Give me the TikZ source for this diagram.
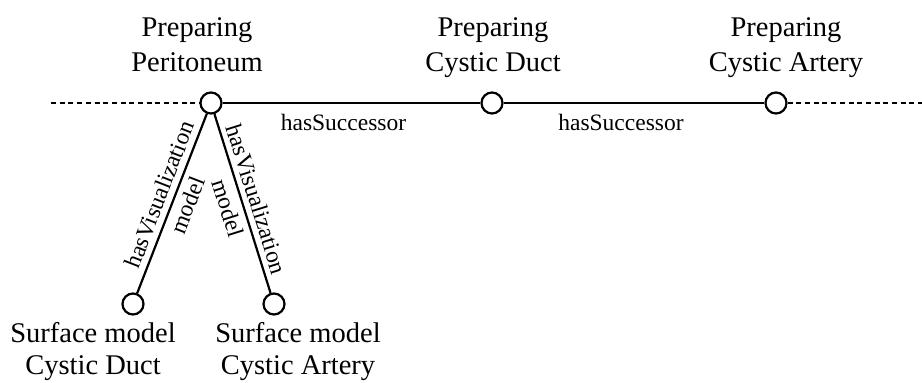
\documentclass[tikz,border=0pt]{standalone}
\usepackage{fontspec}
\setmainfont{Liberation Serif}
\begin{document}
\begin{tikzpicture}[x=1pt,y=-1pt,line width=2.2pt,
  state/.style={circle,draw,fill=white,inner sep=0pt,minimum size=21pt},
  steplabel/.style={align=center,inner sep=0pt,font=\fontsize{28.5}{35}\selectfont},
  modellabel/.style={align=center,inner sep=0pt,font=\fontsize{28.5}{32}\selectfont},
  rel/.style={inner sep=0pt,font=\fontsize{23.5}{27}\selectfont},
  vis/.style={sloped,align=center,inner sep=0pt,font=\fontsize{23.5}{30}\selectfont},
  chain/.style={dash pattern=on 5pt off 3.7pt}]
\useasboundingbox (0,0) rectangle (922,383);

% process steps
\node[state] (p1) at (211,103) {};
\node[state] (p2) at (492,103) {};
\node[state] (p3) at (776,103) {};
% surface models
\node[state] (m1) at (133,304) {};
\node[state] (m2) at (274,304) {};

% step names (base anchor = baseline of the last line)
\node[steplabel,anchor=base] (t1) at (197,71) {Preparing\\Peritoneum};
\node[steplabel,anchor=base] (t2) at (493,71) {Preparing\\Cystic Duct};
\node[steplabel,anchor=base] (t3) at (786,71) {Preparing\\Cystic Artery};
\node[modellabel,anchor=base] (b1) at (93,374) {Surface model\\Cystic Duct};
\node[modellabel,anchor=base] (b2) at (298,374) {Surface model\\Cystic Artery};

% open ends of the chain
\coordinate (cin) at (51,103);
\coordinate (cout) at (922,103);
\draw[chain] (cin) -- (p1);
\draw[chain] (p3) -- (cout);

% successor relations
\draw (p1) -- node[rel,anchor=base,xshift=-8pt,yshift=-27pt] {hasSuccessor} (p2);
\draw (p2) -- node[rel,anchor=base,xshift=-13pt,yshift=-27pt] {hasSuccessor} (p3);

% visualization relations
\draw (m1) -- node[vis,pos=0.52] {hasVisualization\\model} (p1);
\draw (p1) -- node[vis,pos=0.5] {hasVisualization\\model} (m2);
\end{tikzpicture}
\end{document}
